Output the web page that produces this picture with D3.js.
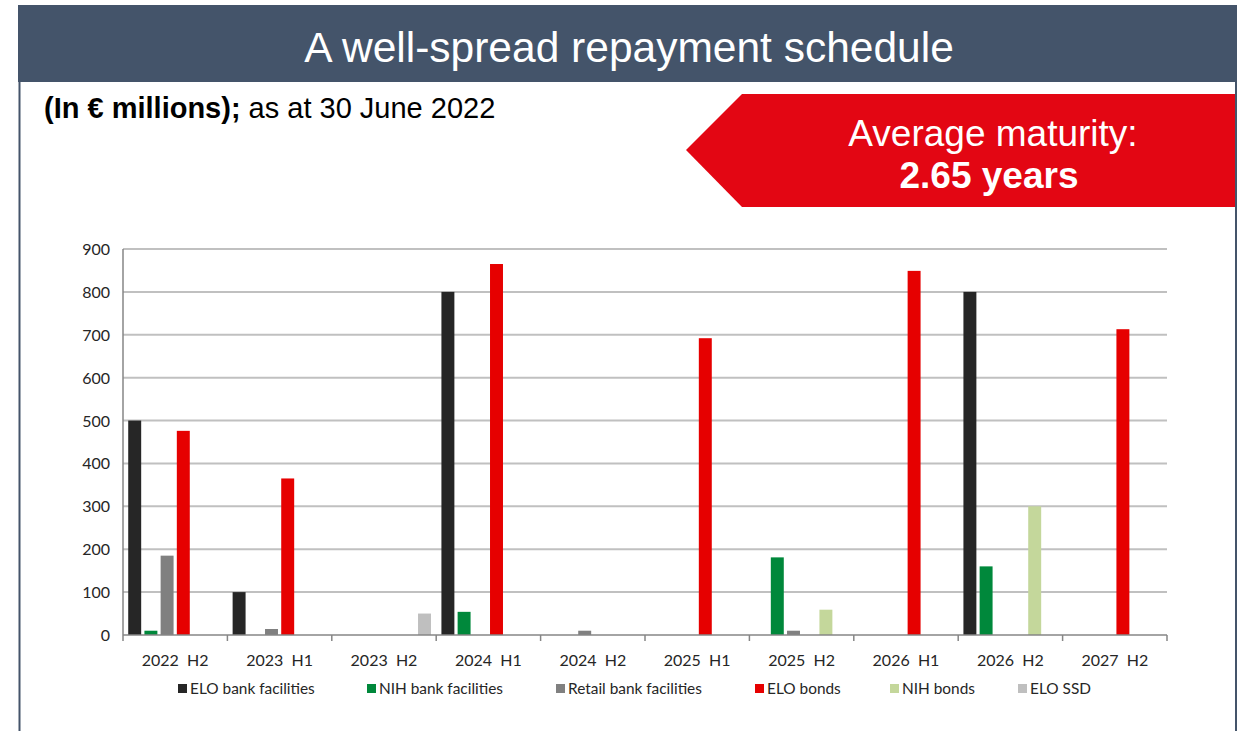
<!DOCTYPE html>
<html>
<head>
<meta charset="utf-8">
<script src="https://cdn.jsdelivr.net/npm/d3@7"></script>
<style>
  body { margin: 0; background: #fff; }
  svg { display: block; }
</style>
</head>
<body>
<svg id="chart" width="1248" height="731"></svg>
<script>
const periods = ["2022  H2", "2023  H1", "2023  H2", "2024  H1", "2024  H2", "2025  H1", "2025  H2", "2026  H1", "2026  H2", "2027  H2"];
const seriesNames = ["ELO bank facilities", "NIH bank facilities", "Retail bank facilities", "ELO bonds", "NIH bonds", "ELO SSD"];
const seriesColors = ["#262626", "#00883b", "#808080", "#e60000", "#c4d79b", "#bfbfbf"];

const eloBank = [500, 100, 0, 800, 0, 0, 0, 0, 800, 0];
const nihBank = [10, 0, 0, 54, 0, 0, 181, 0, 160, 0];
const retailBank = [185, 14, 0, 0, 10, 0, 10, 0, 0, 0];
const eloBonds = [476, 365, 0, 865, 0, 692, 0, 849, 0, 713];
const nihBonds = [0, 0, 0, 0, 0, 0, 59, 0, 300, 0];
const eloSsd = [0, 0, 50, 0, 0, 0, 0, 0, 0, 0];

const yTicks = [0, 100, 200, 300, 400, 500, 600, 700, 800, 900];

const seriesValues = [eloBank, nihBank, retailBank, eloBonds, nihBonds, eloSsd];

const svg = d3.select("#chart");

// frame + title bar
svg.append("rect").attr("x", 18).attr("y", 5).attr("width", 1219).attr("height", 77).attr("fill", "#44546a");
svg.append("line").attr("x1", 19.5).attr("x2", 19.5).attr("y1", 82).attr("y2", 731)
  .attr("stroke", "#44546a").attr("stroke-width", 2);
svg.append("line").attr("x1", 1236).attr("x2", 1236).attr("y1", 82).attr("y2", 731)
  .attr("stroke", "#44546a").attr("stroke-width", 2);

svg.append("text")
  .attr("x", 629).attr("y", 62)
  .attr("text-anchor", "middle")
  .attr("fill", "#fff")
  .style("font-family", "'Liberation Sans', Arial, sans-serif")
  .style("font-size", "42.5px")
  .text("A well-spread repayment schedule");

const sub = svg.append("text")
  .attr("x", 44).attr("y", 118)
  .attr("fill", "#000")
  .style("font-family", "'Liberation Sans', Arial, sans-serif")
  .style("font-size", "29px");
sub.append("tspan").style("font-weight", "bold").text("(In € millions);");
sub.append("tspan").text(" as at 30 June 2022");

// red arrow box
svg.append("path")
  .attr("d", "M742,94 L1235,94 L1235,207 L742,207 L686,150 Z")
  .attr("fill", "#e30613");
svg.append("text")
  .attr("x", 993).attr("y", 146)
  .attr("text-anchor", "middle").attr("fill", "#fff")
  .style("font-family", "'Liberation Sans', Arial, sans-serif")
  .style("font-size", "37px")
  .text("Average maturity:");
svg.append("text")
  .attr("x", 989).attr("y", 188)
  .attr("text-anchor", "middle").attr("fill", "#fff")
  .style("font-family", "'Liberation Sans', Arial, sans-serif")
  .style("font-size", "37px").style("font-weight", "bold")
  .text("2.65 years");

// chart area
const plot = { left: 123, right: 1167, top: 249, bottom: 635 };

const x0 = d3.scaleBand().domain(periods).range([plot.left, plot.right]).paddingInner(0.1).paddingOuter(0.05);
const x1 = d3.scaleBand().domain(d3.range(seriesNames.length)).range([0, x0.bandwidth()]).paddingInner(0.2);
const y = d3.scaleLinear().domain([0, 900]).range([plot.bottom, plot.top]);

const tickFont = "Lato, 'Open Sans', sans-serif";

svg.append("g")
  .selectAll("line")
  .data(yTicks.filter((d) => d > 0))
  .join("line")
  .attr("x1", plot.left).attr("x2", plot.right)
  .attr("y1", (d) => y(d)).attr("y2", (d) => y(d))
  .attr("stroke", "#c0c0c0").attr("stroke-width", 2);

svg.append("g")
  .selectAll("text")
  .data(yTicks)
  .join("text")
  .attr("x", 110).attr("y", (d) => y(d) + 6)
  .attr("text-anchor", "end").attr("fill", "#262626")
  .style("font-family", tickFont).style("font-size", "16px")
  .text((d) => d);

const groups = svg.append("g")
  .selectAll("g")
  .data(periods)
  .join("g")
  .attr("transform", (d) => `translate(${x0(d)},0)`);

groups.selectAll("rect")
  .data((d, i) => seriesValues.map((vals, s) => ({ s, v: vals[i] })).filter((d) => d.v > 0))
  .join("rect")
  .attr("x", (d) => x1(d.s))
  .attr("width", x1.bandwidth())
  .attr("y", (d) => y(d.v))
  .attr("height", (d) => y(0) - y(d.v))
  .attr("fill", (d) => seriesColors[d.s]);

// axes lines
svg.append("line").attr("x1", plot.left).attr("x2", plot.left).attr("y1", plot.top).attr("y2", plot.bottom)
  .attr("stroke", "#868686").attr("stroke-width", 1.5);
svg.append("line").attr("x1", plot.left).attr("x2", plot.right).attr("y1", plot.bottom).attr("y2", plot.bottom)
  .attr("stroke", "#868686").attr("stroke-width", 1.5);

const step = (plot.right - plot.left) / periods.length;
svg.append("g")
  .selectAll("line")
  .data(d3.range(periods.length + 1))
  .join("line")
  .attr("x1", (d) => plot.left + d * step).attr("x2", (d) => plot.left + d * step)
  .attr("y1", plot.bottom).attr("y2", plot.bottom + 6)
  .attr("stroke", "#868686").attr("stroke-width", 1.5);

svg.append("g")
  .selectAll("text")
  .data(periods)
  .join("text")
  .attr("x", (d) => x0(d) + x0.bandwidth() / 2)
  .attr("y", 666)
  .attr("text-anchor", "middle").attr("fill", "#262626")
  .style("font-family", tickFont).style("font-size", "16px")
  .style("white-space", "pre")
  .text((d) => d);

// legend
const legendX = [178, 367, 556, 755, 890, 1018];
const legend = svg.append("g")
  .selectAll("g")
  .data(seriesNames)
  .join("g")
  .attr("transform", (d, i) => `translate(${legendX[i]},684)`);
legend.append("rect").attr("width", 9).attr("height", 9).attr("fill", (d, i) => seriesColors[i]);
legend.append("text")
  .attr("x", 12).attr("y", 9.5)
  .attr("fill", "#262626")
  .style("font-family", tickFont).style("font-size", "15.4px")
  .text((d) => d);
</script>
</body>
</html>
